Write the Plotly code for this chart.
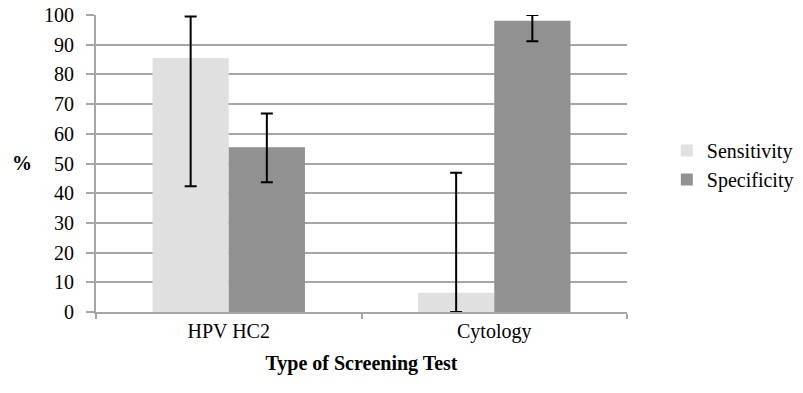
import plotly.graph_objects as go

categories = ["HPV HC2", "Cytology"]
sensitivity = [85.5, 6.5]
sens_lower = [42.3, 0.0]
sens_upper = [99.5, 46.9]
specificity = [55.5, 98.1]
spec_lower = [43.7, 91.2]
spec_upper = [66.8, 100.0]
y_ticks = list(range(0, 101, 10))

FONT = "'Times New Roman', 'Liberation Serif', 'DejaVu Serif', serif"
GRID = "#a6a6a6"


def err(vals, lo, hi):
    return dict(
        type="data",
        symmetric=False,
        array=[h - v for v, h in zip(vals, hi)],
        arrayminus=[v - l for v, l in zip(vals, lo)],
        color="black",
        thickness=2,
        width=6,
    )


fig = go.Figure()
fig.add_trace(go.Bar(
    name="Sensitivity", x=categories, y=sensitivity,
    marker=dict(color="#e0e0e0", line=dict(width=0)),
    error_y=err(sensitivity, sens_lower, sens_upper),
    legendgroup="a",
))
fig.add_trace(go.Bar(
    name="Specificity", x=categories, y=specificity,
    marker=dict(color="#919191", line=dict(width=0)),
    error_y=err(specificity, spec_lower, spec_upper),
    legendgroup="b",
))

fig.update_layout(
    width=803, height=393,
    margin=dict(l=96, r=176, t=15, b=81, autoexpand=False),
    paper_bgcolor="white", plot_bgcolor="white",
    barmode="group", bargap=0.426, bargroupgap=0,
    font=dict(family=FONT, size=20, color="black"),
    legend=dict(
        x=1.075, xanchor="left", y=0.495, yanchor="middle",
        traceorder="grouped", tracegroupgap=0,
        font=dict(family=FONT, size=20, color="black"),
        bgcolor="rgba(0,0,0,0)",
    ),
    xaxis=dict(
        type="category", automargin=False,
        showline=True, linecolor=GRID, linewidth=2,
        ticks="outside", tickson="boundaries", ticklen=5, tickcolor=GRID, tickwidth=2,
        showgrid=False,
        tickfont=dict(family=FONT, size=20, color="black"),
        title=dict(text="<b>Type of Screening Test</b>", standoff=14,
                   font=dict(family=FONT, size=20, color="black")),
    ),
    yaxis=dict(
        range=[0, 100], tickvals=y_ticks, automargin=False,
        showline=True, linecolor=GRID, linewidth=2,
        ticks="outside", ticklen=8, tickcolor=GRID, tickwidth=2,
        showgrid=True, gridcolor=GRID, gridwidth=2,
        zeroline=False,
        tickfont=dict(family=FONT, size=20, color="black"),
        ticklabelstandoff=8,
    ),
    annotations=[dict(
        text="<b>%</b>", xref="paper", yref="paper", x=0, y=0.502,
        xanchor="right", yanchor="middle", xshift=-62, showarrow=False,
        font=dict(family=FONT, size=20, color="black"),
    )],
)

fig.write_html("out.html", config={"displayModeBar": False},
               post_script="document.body.style.margin='0';")
